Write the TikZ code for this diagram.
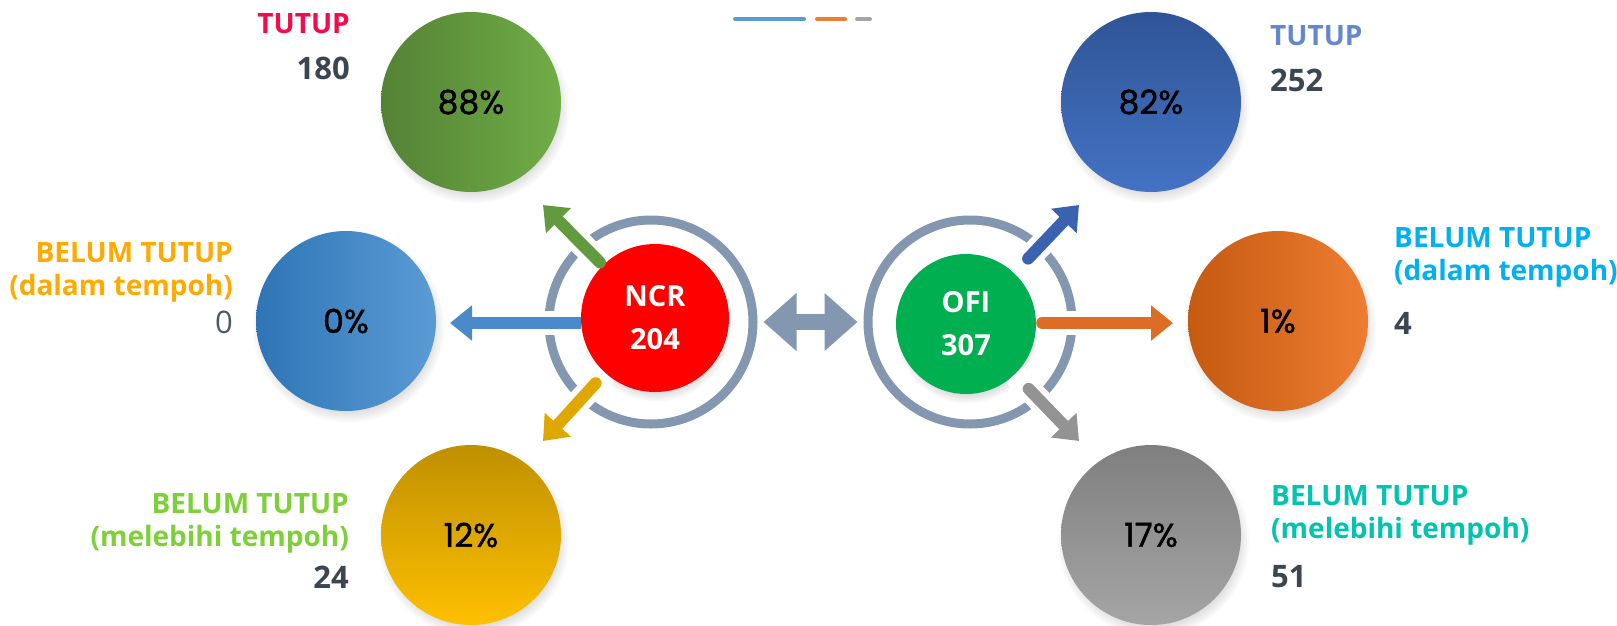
\documentclass[tikz,border=0pt]{standalone}
\usepackage{fontspec}
\setmainfont{Open Sans}
\newfontfamily\pctfont[FakeBold=1.2]{Poppins}
\usepackage{xcolor}
\usetikzlibrary{arrows.meta,positioning,shadows}
\definecolor{ringgray}{RGB}{132,151,176}
\definecolor{ncrred}{RGB}{255,0,0}
\definecolor{ofigreen}{RGB}{0,176,80}
\definecolor{numgray}{RGB}{59,70,82}
\definecolor{zerogray}{RGB}{80,90,100}
\definecolor{tutupred}{RGB}{245,10,75}
\definecolor{amber}{RGB}{255,170,0}
\definecolor{lime}{RGB}{125,208,55}
\definecolor{cornflower}{RGB}{100,135,205}
\definecolor{skycyan}{RGB}{0,176,240}
\definecolor{teal}{RGB}{0,196,176}

\begin{document}
\begin{tikzpicture}[
    x=1pt, y=-1pt,
    bubble/.style={circle, minimum size=180pt, inner sep=0pt, text=black, font=\pctfont\fontsize{33}{33}\selectfont,
        circular drop shadow={shadow xshift=2pt, shadow yshift=-5pt, shadow scale=1.07, opacity=0.3}},
    core/.style={circle, inner sep=0pt, text=white, align=center, font=\bfseries\fontsize{29}{43}\selectfont,
        circular drop shadow={shadow xshift=1pt, shadow yshift=-8pt, shadow scale=1.02, opacity=0.3}},
    ring/.style={circle, draw=ringgray, line width=9pt, minimum size=204pt, inner sep=0pt},
    halo/.style={draw=white, line width=24pt, shorten >=40pt},
    outarrow/.style={line width=12pt, line cap=round, -{Triangle[length=22pt,width=34pt]}},
    linkarrow/.style={draw=ringgray, line width=16pt, {Triangle[length=33pt,width=56pt]}-{Triangle[length=33pt,width=56pt]}, shorten <=6pt, shorten >=6pt},
    title/.style={font=\bfseries\fontsize{28}{33}\selectfont, inner sep=0pt},
    count/.style={font=\bfseries\fontsize{31}{31}\selectfont, text=numgray, inner sep=0pt}
]
\useasboundingbox (0,0) rectangle (1617,625);

% Legend strokes
\draw[line width=4pt, line cap=round, draw={rgb,255:red,91;green,155;blue,213}] (735,19) -- (804,19);
\draw[line width=4pt, line cap=round, draw={rgb,255:red,237;green,125;blue,49}] (817,19) -- (845,19);
\draw[line width=4pt, line cap=round, draw={rgb,255:red,165;green,165;blue,165}] (857,19) -- (870,19);

% NCR side bubbles
\node[bubble, left color={rgb,255:red,84;green,130;blue,53}, right color={rgb,255:red,112;green,173;blue,71}] (ncrtutup) at (471,102) {88\%};
\node[bubble, left color={rgb,255:red,46;green,117;blue,182}, right color={rgb,255:red,91;green,155;blue,213}] (ncrdalam) at (346,321) {0\%};
\node[bubble, top color={rgb,255:red,191;green,144;blue,0}, bottom color={rgb,255:red,255;green,192;blue,0}] (ncrlebih) at (471,535) {12\%};

% OFI side bubbles
\node[bubble, top color={rgb,255:red,47;green,85;blue,151}, bottom color={rgb,255:red,68;green,114;blue,196}] (ofitutup) at (1151,102) {82\%};
\node[bubble, left color={rgb,255:red,197;green,90;blue,17}, right color={rgb,255:red,237;green,125;blue,49}] (ofidalam) at (1278,321) {1\%};
\node[bubble, top color={rgb,255:red,127;green,127;blue,127}, bottom color={rgb,255:red,165;green,165;blue,165}] (ofilebih) at (1151,535) {17\%};

% Rings and centres
\node[ring] (ncrring) at (651,322) {};
\node[ring] (ofiring) at (970,322) {};
\node[core, fill=ncrred, minimum size=148pt] (ncr) at (655,318) {NCR\\204};
\node[core, fill=ofigreen, minimum size=140pt] (ofi) at (966,324) {OFI\\307};

% Arrow ends
\coordinate (ncrtl) at (543,205);
\coordinate (ncrl) at (450,323);
\coordinate (ncrbl) at (543,441);
\coordinate (ofitr) at (1079,205);
\coordinate (ofir) at (1173,323);
\coordinate (ofibr) at (1079,441);

% Gaps in the rings
\draw[halo] (ncr) -- (ncrtl);
\draw[halo] (ncr.west |- ncrl) -- (ncrl);
\draw[halo] (ncr) -- (ncrbl);
\draw[halo] (ofi) -- (ofitr);
\draw[halo] (ofi.east |- ofir) -- (ofir);
\draw[halo] (ofi) -- (ofibr);

% Arrows
\draw[outarrow, draw={rgb,255:red,98;green,154;blue,64}, shorten <=4pt] (ncr) -- (ncrtl);
\draw[outarrow, line cap=butt, draw={rgb,255:red,74;green,138;blue,203}] (ncr.west |- ncrl) -- (ncrl);
\draw[outarrow, draw={rgb,255:red,222;green,168;blue,0}, shorten <=14pt] (ncr) -- (ncrbl);
\draw[outarrow, draw={rgb,255:red,58;green,98;blue,176}, shorten <=20pt] (ofi) -- (ofitr);
\draw[outarrow, draw={rgb,255:red,221;green,108;blue,37}, shorten <=6pt] (ofi.east |- ofir) -- (ofir);
\draw[outarrow, draw={rgb,255:red,147;green,147;blue,147}, shorten <=20pt] (ofi) -- (ofibr);
\draw[linkarrow] (ncrring.east) -- (ofiring.west);

% Left labels
\node[title, text=tutupred, anchor=base east] (lbltutup) at (350,33) {TUTUP};
\node[count, anchor=base east] (numtutup) at (350,79) {180};
\node[title, text=amber, anchor=north east, align=right] (lbldalam) at (233,242) {BELUM TUTUP\\(dalam tempoh)};
\node[count, font=\fontsize{31}{31}\selectfont, text=zerogray, anchor=base east] (numdalam) at (233,333) {0};
\node[title, text=lime, anchor=north east, align=right] (lbllebih) at (349,493) {BELUM TUTUP\\(melebihi tempoh)};
\node[count, anchor=base east] (numlebih) at (349,588) {24};

% Right labels
\node[title, text=cornflower, anchor=base west] (rlbltutup) at (1270,45) {TUTUP};
\node[count, anchor=base west] (rnumtutup) at (1270,91) {252};
\node[title, text=skycyan, anchor=north west, align=left] (rlbldalam) at (1394,227) {BELUM TUTUP\\(dalam tempoh)};
\node[count, anchor=base west] (rnumdalam) at (1394,334) {4};
\node[title, text=teal, anchor=north west, align=left] (rlbllebih) at (1271,485) {BELUM TUTUP\\(melebihi tempoh)};
\node[count, anchor=base west] (rnumlebih) at (1271,587) {51};

\end{tikzpicture}
\end{document}
